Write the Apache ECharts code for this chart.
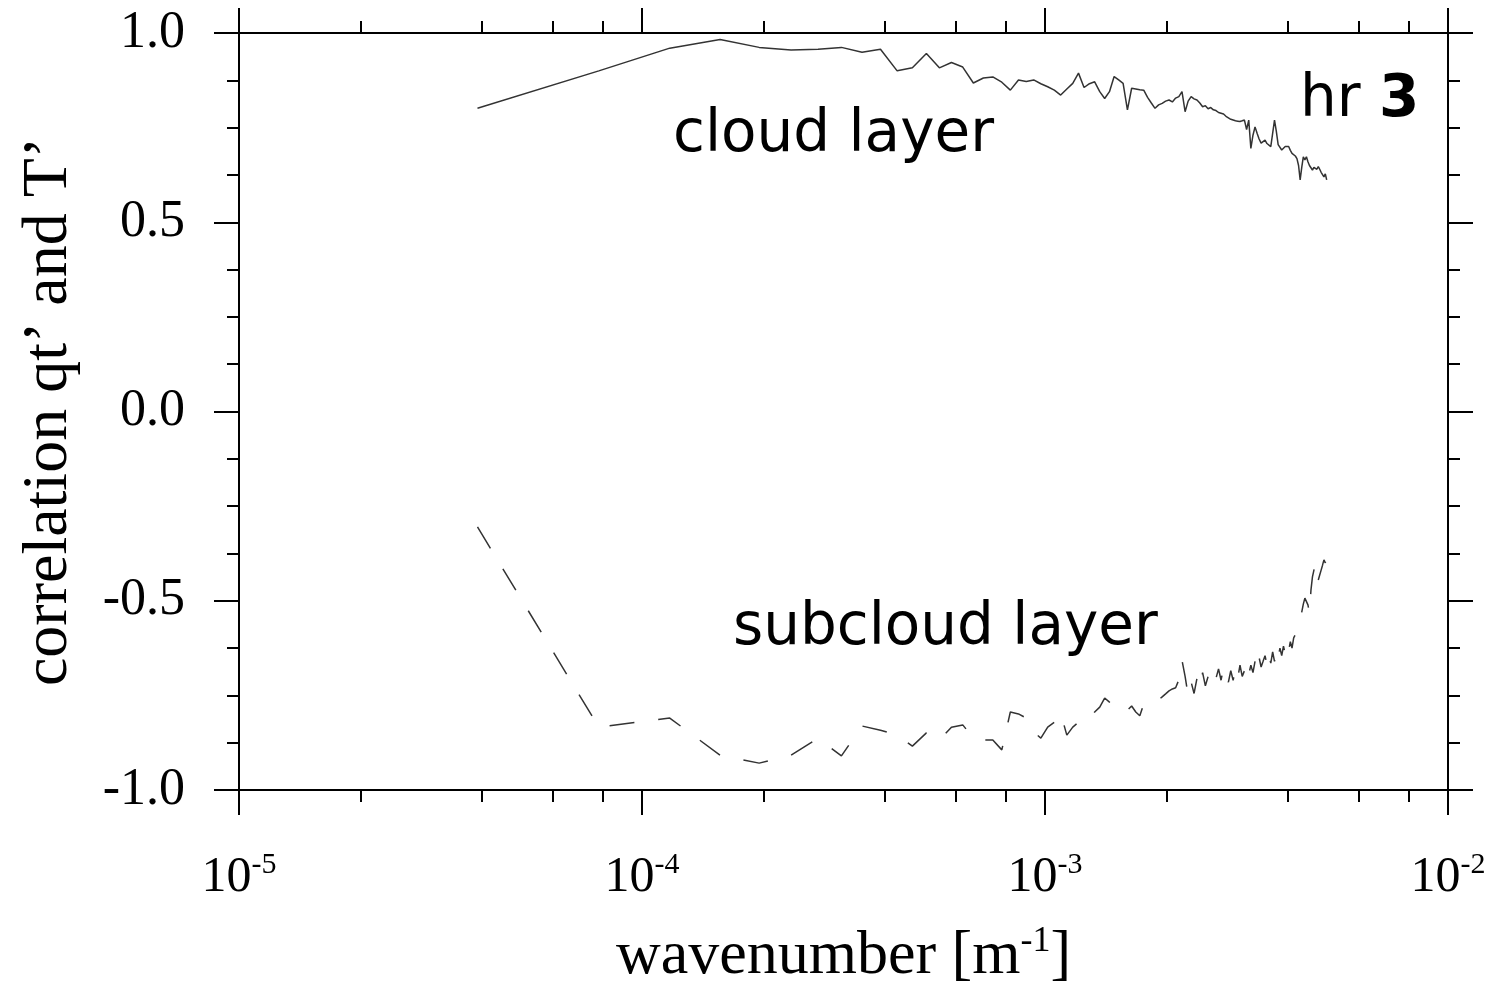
<!DOCTYPE html>
<html>
<head>
<meta charset="utf-8">
<script src="https://cdn.jsdelivr.net/npm/echarts@6/dist/echarts.min.js"></script>
<style>
  html, body { margin: 0; padding: 0; background: #ffffff; }
  #chart { width: 1492px; height: 984px; }
</style>
</head>
<body>
<div id="chart"></div>
<script>
// Spectral correlation between qt' and T' per wavenumber, hour 3.
// Wavenumbers are the discrete modes k = n / L of a 25.6 km domain (n = 1..128).
const DOMAIN_LENGTH_M = 25600;

const cloudLayer = [
  0.801, 0.900, 0.960, 0.983, 0.962, 0.955, 0.957, 0.962, 0.949, 0.957,
  0.900, 0.908, 0.946, 0.908, 0.922, 0.910, 0.868, 0.881, 0.884, 0.870,
  0.849, 0.876, 0.872, 0.876, 0.866, 0.858, 0.849, 0.836, 0.852, 0.867,
  0.894, 0.856, 0.866, 0.871, 0.845, 0.827, 0.845, 0.885, 0.876, 0.867,
  0.797, 0.854, 0.852, 0.850, 0.849, 0.830, 0.815, 0.801, 0.810, 0.814,
  0.820, 0.823, 0.818, 0.828, 0.832, 0.845, 0.792, 0.820, 0.832, 0.826,
  0.823, 0.815, 0.805, 0.808, 0.800, 0.803, 0.797, 0.795, 0.790, 0.788,
  0.786, 0.780, 0.776, 0.772, 0.770, 0.768, 0.767, 0.766, 0.768, 0.770,
  0.745, 0.770, 0.695, 0.730, 0.752, 0.735, 0.720, 0.709, 0.712, 0.717,
  0.708, 0.712, 0.700, 0.735, 0.770, 0.740, 0.705, 0.700, 0.691, 0.695,
  0.700, 0.705, 0.700, 0.690, 0.682, 0.685, 0.675, 0.668, 0.650, 0.612,
  0.645, 0.673, 0.665, 0.673, 0.660, 0.650, 0.655, 0.638, 0.645, 0.650,
  0.640, 0.647, 0.640, 0.632, 0.628, 0.620, 0.628, 0.612
];

const subcloudLayer = [
  -0.305, -0.834, -0.810, -0.908, -0.929, -0.908, -0.863, -0.910, -0.831, -0.842,
  -0.855, -0.884, -0.849, -0.868, -0.834, -0.828, -0.863, -0.868, -0.868, -0.894,
  -0.794, -0.799, -0.810, -0.847, -0.863, -0.834, -0.821, -0.797, -0.855, -0.834,
  -0.821, -0.810, -0.815, -0.794, -0.781, -0.757, -0.768, -0.778, -0.789, -0.797,
  -0.789, -0.778, -0.794, -0.804, -0.773, -0.768, -0.760, -0.757, -0.762, -0.754,
  -0.746, -0.738, -0.733, -0.730, -0.709, -0.657, -0.700, -0.750, -0.715, -0.745,
  -0.705, -0.730, -0.690, -0.725, -0.700, -0.690, -0.720, -0.705, -0.680, -0.710,
  -0.675, -0.700, -0.715, -0.685, -0.710, -0.680, -0.705, -0.670, -0.700, -0.685,
  -0.665, -0.695, -0.670, -0.690, -0.660, -0.685, -0.650, -0.675, -0.660, -0.645,
  -0.670, -0.640, -0.665, -0.635, -0.660, -0.630, -0.650, -0.625, -0.645, -0.620,
  -0.640, -0.615, -0.632, -0.608, -0.625, -0.598, -0.590, -0.575, -0.562, -0.550,
  -0.530, -0.509, -0.493, -0.490, -0.511, -0.532, -0.472, -0.437, -0.419, -0.400,
  -0.432, -0.445, -0.432, -0.419, -0.406, -0.392, -0.400, -0.384
];

// Axis ranges and tick marks
const X_MIN = 1e-5, X_MAX = 1e-2;
const xDecades = [-5, -4, -3, -2];
const xMinorMantissas = [2, 4, 6, 8];
const Y_MIN = -1.0, Y_MAX = 1.0, Y_STEP = 0.5;

const wavenumbers = cloudLayer.map((_, i) => (i + 1) / DOMAIN_LENGTH_M);
const cloudData = wavenumbers.map((k, i) => [k, cloudLayer[i]]);
const subcloudData = wavenumbers.map((k, i) => [k, subcloudLayer[i]]);

// Minor tick positions in log10 units, for the helper axes
const xMinorLog = [];
xDecades.slice(0, -1).forEach(d => xMinorMantissas.forEach(m => xMinorLog.push(d + Math.log10(m))));

const INK = '#000000';
const SERIF = '"Liberation Serif", "Times New Roman", serif';
const SANS = '"DejaVu Sans", sans-serif';
const MAJOR_LEN = 25, MINOR_LEN = 12, AXIS_W = 2;

const majorLogAxis = (position, showLabels) => ({
  type: 'log', logBase: 10, min: X_MIN, max: X_MAX, position,
  splitLine: { show: false },
  axisLine: { show: true, onZero: false, lineStyle: { color: INK, width: AXIS_W } },
  axisTick: { show: true, inside: false, length: MAJOR_LEN, lineStyle: { color: INK, width: AXIS_W } },
  axisLabel: {
    show: showLabels, margin: 60, fontFamily: SERIF, fontSize: 50, color: INK,
    formatter: v => '10{sup|' + Math.round(Math.log10(v)) + '}',
    rich: { sup: { fontFamily: SERIF, fontSize: 30, color: INK, verticalAlign: 'top', padding: [0, 0, 26, 0] } }
  },
  name: showLabels ? 'wavenumber [m{sup|-1}]' : '',
  nameLocation: 'middle', nameGap: 134,
  nameTextStyle: {
    fontFamily: SERIF, fontSize: 62, color: INK,
    rich: { sup: { fontFamily: SERIF, fontSize: 36, color: INK, padding: [0, 0, 30, 0] } }
  }
});

const minorLogAxis = (position) => ({
  type: 'value', min: Math.log10(X_MIN), max: Math.log10(X_MAX), position,
  splitLine: { show: false },
  axisLine: { show: false, onZero: false },
  axisLabel: { show: false },
  axisTick: { show: true, inside: false, length: MINOR_LEN, customValues: xMinorLog,
              lineStyle: { color: INK, width: AXIS_W } }
});

const valueYAxis = (position, showLabels) => ({
  type: 'value', min: Y_MIN, max: Y_MAX, interval: Y_STEP, position,
  splitLine: { show: false },
  axisLine: { show: true, onZero: false, lineStyle: { color: INK, width: AXIS_W } },
  axisTick: { show: true, inside: false, length: MAJOR_LEN, lineStyle: { color: INK, width: AXIS_W } },
  minorTick: { show: true, splitNumber: 4, length: MINOR_LEN, lineStyle: { color: INK, width: AXIS_W } },
  axisLabel: {
    show: showLabels, margin: 54, fontFamily: SERIF, fontSize: 52, color: INK,
    formatter: v => v.toFixed(1)
  },
  name: showLabels ? 'correlation qt\u2019 and T\u2019' : '',
  nameLocation: 'middle', nameGap: 158, nameRotate: 90,
  nameTextStyle: { fontFamily: SERIF, fontSize: 64, color: INK }
});

const chart = echarts.init(document.getElementById('chart'), null, { renderer: 'canvas' });
chart.setOption({
  animation: false,
  backgroundColor: '#ffffff',
  grid: { left: 239, top: 33, width: 1209, height: 757, containLabel: false, outerBoundsMode: 'none' },
  xAxis: [
    majorLogAxis('bottom', true),
    majorLogAxis('top', false),
    minorLogAxis('bottom'),
    minorLogAxis('top')
  ],
  yAxis: [
    valueYAxis('left', true),
    valueYAxis('right', false)
  ],
  series: [
    {
      name: 'cloud layer', type: 'line', xAxisIndex: 0, yAxisIndex: 0,
      data: cloudData, showSymbol: false, symbol: 'none',
      lineStyle: { color: '#333333', width: 1.5 }
    },
    {
      name: 'subcloud layer', type: 'line', xAxisIndex: 0, yAxisIndex: 0,
      data: subcloudData, showSymbol: false, symbol: 'none',
      lineStyle: { color: '#333333', width: 1.5, type: [25, 24] }
    }
  ],
  graphic: [
    { type: 'text', left: 673, top: 107,
      style: { text: 'cloud layer', font: '58px ' + SANS, fill: INK } },
    { type: 'text', left: 733, top: 600,
      style: { text: 'subcloud layer', font: '58px ' + SANS, fill: INK } },
    { type: 'text', left: 1300, top: 72,
      style: { text: '{n|hr }{b|3}', fill: INK,
               rich: { n: { fontFamily: SANS, fontSize: 58, fill: INK },
                       b: { fontFamily: SANS, fontSize: 58, fontWeight: 'bold', fill: INK } } } }
  ]
});
</script>
</body>
</html>
